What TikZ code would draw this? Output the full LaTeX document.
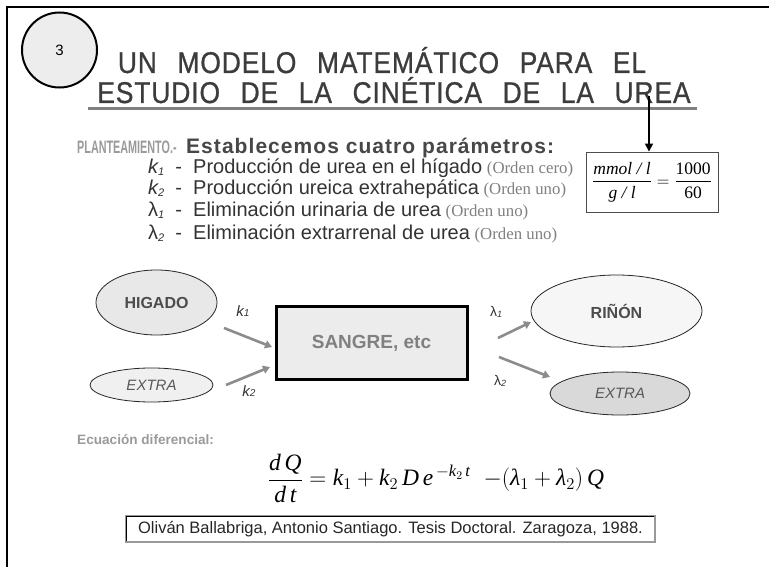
\RequirePackage{fix-cm}
\documentclass[tikz,border=0pt]{standalone}
\usepackage{amsmath}
\usepackage{fontspec}
\setmainfont{Liberation Sans}
\newfontfamily\tms{Liberation Serif}
\newfontfamily\narrowttl[FakeStretch=0.88,LetterSpace=3,WordSpace=2.5,FakeBold=0.8]{Liberation Sans}
\newfontfamily\narrowsf[FakeStretch=0.6]{Liberation Sans}
\newfontfamily\wideb[LetterSpace=5]{Liberation Sans}
\usetikzlibrary{shapes.geometric,arrows.meta}
\definecolor{ttl}{HTML}{3C3C3C}
\definecolor{lgray}{HTML}{9A9A9A}
\definecolor{dtext}{HTML}{333333}
\definecolor{ordc}{HTML}{808080}
\definecolor{arrg}{HTML}{8C8C8C}
\newcommand{\ti}[1]{\text{\tms\itshape #1}}
\begin{document}
\begin{tikzpicture}[x=1pt,y=-1pt,
  ell/.style={ellipse,draw=black!85,line width=0.8pt,inner sep=0pt},
  flow/.style={draw=arrg,line width=2.6pt,-{Triangle[length=7pt,width=8pt]}},
  lbl/.style={font=\fontsize{15}{17}\selectfont\itshape,text=dtext,inner sep=0pt},
  body/.style={anchor=base west,inner sep=0pt,text=dtext,font=\fontsize{20}{22}\selectfont},
  ord/.style={anchor=base west,inner sep=0pt,text=ordc,font=\tms\fontsize{16.8}{18}\selectfont}]
\useasboundingbox (0,0) rectangle (769,567);
\fill[white] (0,0) rectangle (769,567);
\draw[line width=2pt] (7,567) -- (7,7) -- (769,7);
% number circle
\node[circle,draw,line width=2pt,fill=gray!14,minimum size=75pt,inner sep=0pt] (num) at (59.5,50) {\fontsize{15}{17}\selectfont 3};
% title
\node[anchor=base,inner sep=0pt,text=ttl,font=\narrowttl\fontsize{30}{32}\selectfont] (t1) at (382,73) {UN MODELO MATEMÁTICO PARA EL};
\node[anchor=base,inner sep=0pt,text=ttl,font=\narrowttl\fontsize{30}{32}\selectfont] (t2) at (394,103) {ESTUDIO DE LA CINÉTICA DE LA UREA};
\draw[line width=3pt,draw=gray] (88,108.5) -- (697,108.5);
% conversion box
\node[draw=black!70,line width=0.9pt,minimum width=132pt,minimum height=60pt,inner sep=0pt,font=\tms\fontsize{17.5}{19}\selectfont] (conv) at (652,182)
 {$\dfrac{\ti{mmol / l}}{\ti{g / l}} = \dfrac{\text{1000}}{\text{60}}$};
\coordinate (arrtop) at (649,96);
\draw[line width=1.6pt,-{Triangle[length=8pt,width=8pt]}] (arrtop) -- (arrtop |- conv.north);
% planteamiento
\node[anchor=base west,inner sep=0pt,text=lgray,font=\narrowsf\bfseries\fontsize{18}{20}\selectfont] (plan) at (77,154) {PLANTEAMIENTO.-};
\node[anchor=base west,inner sep=0pt,text=black!72,font=\wideb\bfseries\fontsize{21}{23}\selectfont] (estab) at (186,154) {Establecemos cuatro parámetros:};
\node[body] (p1) at (148,174) {\textit{k\raisebox{-0.1ex}{\fontsize{11}{12}\selectfont 1}}~ -~ Producción de urea en el hígado};
\node[ord] (o1) at (p1.base east) {~(Orden cero)};
\node[body] (p2) at (148,195) {\textit{k\raisebox{-0.1ex}{\fontsize{11}{12}\selectfont 2}}~ -~ Producción ureica extrahepática};
\node[ord] (o2) at (p2.base east) {~(Orden uno)};
\node[body] (p3) at (148,217) {λ\textit{\raisebox{-0.1ex}{\fontsize{11}{12}\selectfont 1}}~ -~ Eliminación urinaria de urea};
\node[ord] (o3) at (p3.base east) {~(Orden uno)};
\node[body] (p4) at (148,240) {λ\textit{\raisebox{-0.1ex}{\fontsize{11}{12}\selectfont 2}}~ -~ Eliminación extrarrenal de urea};
\node[ord] (o4) at (p4.base east) {~(Orden uno)};
% compartments
\node[ell,fill=gray!18,minimum width=121pt,minimum height=65pt,font=\bfseries\fontsize{16}{18}\selectfont,text=black!70] (higado) at (156.5,302.5) {HIGADO};
\node[ell,fill=gray!12,minimum width=123pt,minimum height=34pt,font=\itshape\fontsize{15}{17}\selectfont,text=black!65] (extraL) at (151.5,385) {EXTRA};
\node[draw=black,line width=3pt,fill=gray!15,minimum width=191pt,minimum height=73pt,font=\bfseries\fontsize{19}{21}\selectfont,text=gray] (sangre) at (371.5,343) {SANGRE, etc};
\node[ell,fill=gray!7,minimum width=171pt,minimum height=72pt,font=\bfseries\fontsize{16}{18}\selectfont,text=black!70] (rinon) at (616.5,311) {RIÑÓN};
\node[ell,fill=gray!30,minimum width=140pt,minimum height=43pt,font=\itshape\fontsize{15}{17}\selectfont,text=black!65] (extraR) at (620,393.5) {EXTRA};
% flows
\coordinate (k1s) at (224,328); \coordinate (k1e) at (272,347);
\coordinate (k2s) at (226,385); \coordinate (k2e) at (270,367);
\coordinate (l1s) at (498,338); \coordinate (l1e) at (531,322);
\coordinate (l2s) at (499,357); \coordinate (l2e) at (550,377);
\draw[flow] (k1s) -- (k1e);
\draw[flow] (k2s) -- (k2e);
\draw[flow] (l1s) -- (l1e);
\draw[flow] (l2s) -- (l2e);
\node[lbl] (lk1) at (243,311) {k\raisebox{-0.1ex}{\fontsize{10}{11}\selectfont 1}};
\node[lbl] (lk2) at (249,391) {k\raisebox{-0.1ex}{\fontsize{10}{11}\selectfont 2}};
\node[lbl,font=\fontsize{14}{16}\selectfont] (ll1) at (496,312) {λ\raisebox{-0.1ex}{\fontsize{9}{10}\selectfont\itshape 1}};
\node[lbl,font=\fontsize{14}{16}\selectfont] (ll2) at (500,381) {λ\raisebox{-0.1ex}{\fontsize{9}{10}\selectfont\itshape 2}};
% equation
\node[anchor=base west,inner sep=0pt,text=lgray,font=\bfseries\fontsize{13.6}{15}\selectfont] (ecd) at (77,444) {Ecuación diferencial:};
\node[inner sep=0pt,font=\tms\fontsize{23.5}{26}\selectfont] (eq) at (436,478)
 {$\dfrac{\ti{d\,Q}}{\ti{d\,t}} = \ti{k}_1 + \ti{k}_2\,\ti{D\,e}^{\,-\ti{k}_2\,\ti{t}}\;\;{-}(\ti{λ}_1 + \ti{λ}_2)\,\ti{Q}$};
% citation
\node[draw=gray!80,line width=2.5pt,fill=white,minimum width=529pt,minimum height=26pt,inner sep=0pt] (cit) at (390.5,529) {};
\draw[line width=0.8pt] (cit.south west) ++(1.8,-1.8) |- ([shift={(-1.8,1.8)}]cit.north east);
\node[inner sep=0pt,text=black!85,font=\fontsize{16.5}{18}\selectfont] (cittxt) at (cit.center) {Oliván Ballabriga, Antonio Santiago. Tesis Doctoral. Zaragoza, 1988.};
\end{tikzpicture}
\end{document}
